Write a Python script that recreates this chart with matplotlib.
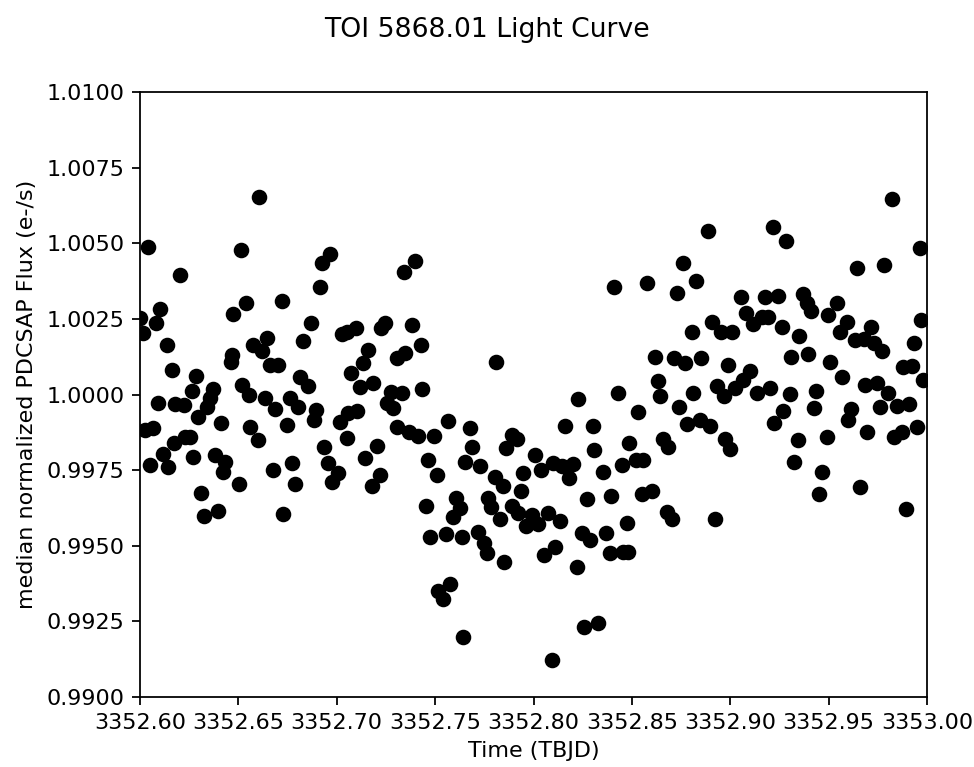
import matplotlib
matplotlib.use("Agg")
import matplotlib.pyplot as plt
import numpy as np

# time (TBJD) and median normalized flux
time = [
    3352.6000, 3352.6015, 3352.6025, 3352.6039, 3352.6051, 3352.6068, 3352.6080, 3352.6093,
    3352.6102, 3352.6118, 3352.6135, 3352.6144, 3352.6161, 3352.6174, 3352.6178, 3352.6203,
    3352.6225, 3352.6229, 3352.6254, 3352.6263, 3352.6271, 3352.6285, 3352.6297, 3352.6310,
    3352.6327, 3352.6339, 3352.6356, 3352.6373, 3352.6381, 3352.6398, 3352.6412, 3352.6423,
    3352.6432, 3352.6463, 3352.6468, 3352.6473, 3352.6503, 3352.6513, 3352.6520, 3352.6537,
    3352.6554, 3352.6559, 3352.6576, 3352.6598, 3352.6605, 3352.6618, 3352.6635, 3352.6644,
    3352.6661, 3352.6678, 3352.6686, 3352.6703, 3352.6720, 3352.6728, 3352.6746, 3352.6762,
    3352.6771, 3352.6788, 3352.6805, 3352.6813, 3352.6827, 3352.6852, 3352.6869, 3352.6886,
    3352.6895, 3352.6915, 3352.6927, 3352.6937, 3352.6954, 3352.6966, 3352.6974, 3352.7005,
    3352.7017, 3352.7025, 3352.7050, 3352.7052, 3352.7059, 3352.7072, 3352.7096, 3352.7101,
    3352.7118, 3352.7135, 3352.7144, 3352.7160, 3352.7178, 3352.7186, 3352.7203, 3352.7220,
    3352.7225, 3352.7245, 3352.7254, 3352.7275, 3352.7288, 3352.7305, 3352.7306, 3352.7330,
    3352.7342, 3352.7347, 3352.7367, 3352.7384, 3352.7398, 3352.7411, 3352.7428, 3352.7435,
    3352.7452, 3352.7462, 3352.7474, 3352.7494, 3352.7509, 3352.7514, 3352.7541, 3352.7554,
    3352.7564, 3352.7576, 3352.7592, 3352.7605, 3352.7626, 3352.7636, 3352.7643, 3352.7652,
    3352.7677, 3352.7686, 3352.7716, 3352.7728, 3352.7750, 3352.7762, 3352.7767, 3352.7784,
    3352.7804, 3352.7809, 3352.7830, 3352.7847, 3352.7851, 3352.7860, 3352.7889, 3352.7892,
    3352.7914, 3352.7921, 3352.7936, 3352.7948, 3352.7962, 3352.7992, 3352.8007, 3352.8023,
    3352.8038, 3352.8051, 3352.8075, 3352.8092, 3352.8101, 3352.8110, 3352.8135, 3352.8147,
    3352.8160, 3352.8182, 3352.8203, 3352.8220, 3352.8228, 3352.8245, 3352.8259, 3352.8270,
    3352.8287, 3352.8301, 3352.8309, 3352.8330, 3352.8352, 3352.8367, 3352.8389, 3352.8393,
    3352.8411, 3352.8428, 3352.8452, 3352.8453, 3352.8473, 3352.8482, 3352.8487, 3352.8521,
    3352.8531, 3352.8550, 3352.8557, 3352.8575, 3352.8601, 3352.8618, 3352.8634, 3352.8643,
    3352.8660, 3352.8677, 3352.8685, 3352.8702, 3352.8716, 3352.8728, 3352.8740, 3352.8762,
    3352.8770, 3352.8778, 3352.8808, 3352.8809, 3352.8828, 3352.8846, 3352.8851, 3352.8885,
    3352.8897, 3352.8909, 3352.8922, 3352.8931, 3352.8953, 3352.8970, 3352.8971, 3352.8990,
    3352.8999, 3352.9009, 3352.9024, 3352.9055, 3352.9066, 3352.9080, 3352.9100, 3352.9117,
    3352.9138, 3352.9160, 3352.9177, 3352.9190, 3352.9200, 3352.9219, 3352.9224, 3352.9244,
    3352.9261, 3352.9270, 3352.9283, 3352.9304, 3352.9309, 3352.9326, 3352.9343, 3352.9351,
    3352.9371, 3352.9388, 3352.9393, 3352.9410, 3352.9427, 3352.9434, 3352.9451, 3352.9468,
    3352.9490, 3352.9499, 3352.9507, 3352.9541, 3352.9558, 3352.9570, 3352.9592, 3352.9600,
    3352.9614, 3352.9634, 3352.9643, 3352.9659, 3352.9682, 3352.9685, 3352.9695, 3352.9715,
    3352.9733, 3352.9744, 3352.9761, 3352.9770, 3352.9783, 3352.9803, 3352.9824, 3352.9834,
    3352.9846, 3352.9871, 3352.9880, 3352.9892, 3352.9909, 3352.9925, 3352.9934, 3352.9948,
    3352.9964, 3352.9969, 3352.9981,
]
flux = [
    1.00252, 1.00203, 0.99883, 1.00489, 0.99767, 0.99888, 1.00237, 0.99973,
    1.00283, 0.99803, 1.00164, 0.99761, 1.00081, 0.99841, 0.99969, 1.00395,
    0.99965, 0.99861, 0.99859, 1.00012, 0.99794, 1.00061, 0.99925, 0.99673,
    0.99598, 0.99960, 0.99987, 1.00017, 0.99800, 0.99615, 0.99907, 0.99745,
    0.99778, 1.00107, 1.00131, 1.00266, 0.99703, 1.00478, 1.00031, 1.00304,
    0.99998, 0.99894, 1.00164, 0.99850, 1.00652, 1.00145, 0.99989, 1.00186,
    1.00098, 0.99750, 0.99951, 1.00098, 1.00310, 0.99604, 0.99899, 0.99989,
    0.99773, 0.99703, 0.99960, 1.00059, 1.00178, 1.00028, 1.00235, 0.99916,
    0.99949, 1.00354, 1.00434, 0.99828, 0.99773, 1.00464, 0.99712, 0.99739,
    0.99910, 1.00200, 1.00208, 0.99855, 0.99940, 1.00070, 1.00219, 0.99947,
    1.00026, 1.00103, 0.99789, 1.00147, 0.99698, 1.00039, 0.99831, 0.99734,
    1.00219, 1.00235, 0.99971, 1.00009, 0.99954, 1.00120, 0.99892, 1.00006,
    1.00406, 1.00136, 0.99875, 1.00230, 1.00441, 0.99863, 1.00164, 1.00017,
    0.99631, 0.99783, 0.99530, 0.99863, 0.99734, 0.99352, 0.99323, 0.99539,
    0.99914, 0.99374, 0.99596, 0.99657, 0.99624, 0.99528, 0.99200, 0.99778,
    0.99888, 0.99828, 0.99547, 0.99765, 0.99508, 0.99477, 0.99657, 0.99629,
    0.99726, 1.00108, 0.99587, 0.99698, 0.99447, 0.99822, 0.99631, 0.99866,
    0.99852, 0.99608, 0.99681, 0.99739, 0.99565, 0.99602, 0.99800, 0.99572,
    0.99750, 0.99469, 0.99607, 0.99122, 0.99775, 0.99497, 0.99583, 0.99764,
    0.99896, 0.99723, 0.99770, 0.99431, 0.99984, 0.99543, 0.99232, 0.99653,
    0.99519, 0.99896, 0.99817, 0.99246, 0.99745, 0.99543, 0.99475, 0.99664,
    1.00354, 1.00006, 0.99767, 0.99480, 0.99574, 0.99480, 0.99841, 0.99783,
    0.99942, 0.99671, 0.99783, 1.00370, 0.99682, 1.00125, 1.00043, 0.99994,
    0.99852, 0.99613, 0.99828, 0.99587, 1.00120, 1.00337, 0.99960, 1.00436,
    1.00103, 0.99902, 1.00208, 1.00006, 1.00375, 0.99916, 1.00120, 1.00541,
    0.99896, 1.00241, 0.99587, 1.00028, 1.00208, 0.99994, 0.99852, 1.00098,
    0.99819, 1.00208, 1.00022, 1.00321, 1.00048, 1.00271, 1.00079, 1.00233,
    1.00004, 1.00255, 1.00321, 1.00257, 1.00020, 1.00553, 0.99907, 1.00326,
    1.00222, 0.99947, 1.00508, 1.00002, 1.00125, 0.99778, 0.99850, 1.00194,
    1.00332, 1.00304, 1.00134, 1.00277, 0.99954, 1.00013, 0.99670, 0.99745,
    0.99861, 1.00263, 1.00108, 1.00302, 1.00205, 1.00059, 1.00241, 0.99916,
    0.99951, 1.00180, 1.00417, 0.99693, 1.00182, 1.00031, 0.99876, 1.00224,
    1.00171, 1.00039, 0.99960, 1.00145, 1.00428, 1.00004, 1.00645, 0.99861,
    0.99962, 0.99877, 1.00092, 0.99620, 0.99969, 1.00094, 1.00169, 0.99892,
    1.00483, 1.00246, 1.00048,
]

fig = plt.figure(figsize=(974 / 160, 767 / 160), dpi=160)
ax = fig.add_axes([140 / 974, 70 / 767, 787 / 974, 605 / 767])

ax.scatter(time, flux, color="black")
ax.set_xlim(3352.6, 3353.0)
ax.set_ylim(0.99, 1.01)
ax.set_xticks(np.arange(3352.60, 3353.001, 0.05))
ax.set_yticks(np.arange(0.99, 1.01001, 0.0025))
ax.xaxis.set_major_formatter(matplotlib.ticker.FormatStrFormatter("%.2f"))
ax.yaxis.set_major_formatter(matplotlib.ticker.FormatStrFormatter("%.4f"))
ax.set_xlabel("Time (TBJD)")
ax.set_ylabel("median normalized PDCSAP Flux (e-/s)")
fig.suptitle("TOI 5868.01 Light Curve", y=0.978)

fig.savefig("out.png", dpi=160)
